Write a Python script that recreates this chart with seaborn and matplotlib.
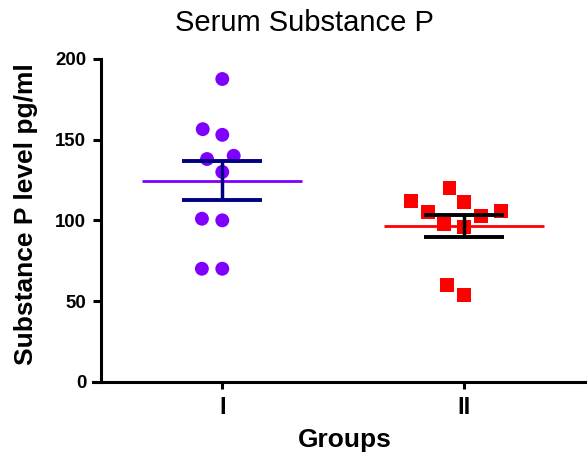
import numpy as np
import pandas as pd
import seaborn as sns
import matplotlib.pyplot as plt

# values (pg/ml)
groups = ["I", "II"]
group_i = [187.6, 156.5, 153, 140, 138, 130, 101, 100, 70, 70]
group_ii = [120, 111.6, 112, 105.4, 105.8, 102.7, 97.9, 95.8, 60, 53.8]
yticks = [0, 50, 100, 150, 200]

point_colors = ["#8000FF", "#FF0000"]
markers = ["o", "s"]
sem_colors = ["#000080", "#000000"]

df = pd.DataFrame({
    "Group": ["I"] * len(group_i) + ["II"] * len(group_ii),
    "Level": group_i + group_ii})

sns.set_style("ticks")
plt.rcParams["font.family"] = ["Liberation Sans", "DejaVu Sans"]
plt.rcParams.update({"text.color": "black", "axes.labelcolor": "black",
                     "xtick.color": "black", "ytick.color": "black"})

fig = plt.figure(figsize=(5.88, 4.58), dpi=100)
ax = fig.add_axes([0.158, 0.1666, 0.837, 0.7046])

# invisible edge widens the swarm spacing (gaps between points like the original)
for i, g in enumerate(groups):
    sns.swarmplot(
        data=df[df["Group"] == g], x="Group", y="Level", order=groups,
        color=point_colors[i], marker=markers[i], size=10,
        linewidth=4, edgecolor="none", ax=ax, zorder=2)

stats = df.groupby("Group")["Level"].agg(["mean", "sem"]).reindex(groups)
for i, g in enumerate(groups):
    m, s = stats.loc[g, "mean"], stats.loc[g, "sem"]
    ax.hlines(m, i - 0.33, i + 0.33, color=point_colors[i], lw=2, zorder=3)
    ax.errorbar(i, m, yerr=s, fmt="none", ecolor=sem_colors[i],
                elinewidth=2.5, capsize=29, capthick=2.8, zorder=4)

ax.set_xlim(-0.535, 1.5)
ax.set_ylim(0, 200)
ax.set_yticks(yticks)
ax.spines["top"].set_visible(False)
ax.spines["right"].set_visible(False)
ax.spines["left"].set_position(("data", -0.5))
for sp in ["left", "bottom"]:
    ax.spines[sp].set_linewidth(2.2)
    ax.spines[sp].set_color("black")

ax.tick_params(axis="y", length=5.8, width=2.2, pad=5, labelsize=13.4)
ax.tick_params(axis="x", length=5, width=2.2, pad=5.5, labelsize=17)
for lab in ax.get_xticklabels() + ax.get_yticklabels():
    lab.set_fontweight("bold")

ax.set_xlabel("Groups", fontsize=19, fontweight="bold")
ax.xaxis.set_label_coords(0.512, -0.145)
ax.set_ylabel("Substance P level pg/ml", fontsize=19, fontweight="bold")
ax.yaxis.set_label_coords(-0.112, 0.52)
fig.text(0.517, 0.95, "Serum Substance P", fontsize=21, ha="center", va="center")

fig.savefig("out.png", dpi=100)
